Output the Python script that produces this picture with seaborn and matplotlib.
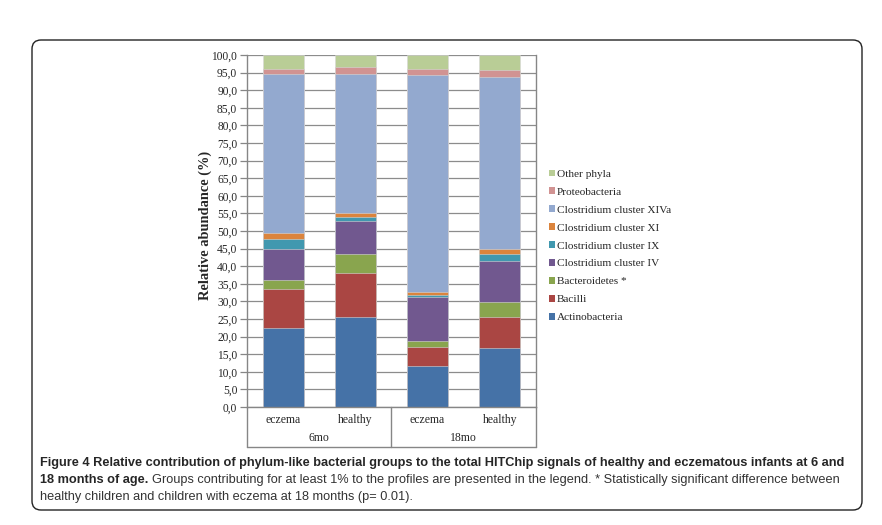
import matplotlib
matplotlib.use("Agg")
import matplotlib.pyplot as plt
import seaborn as sns
import pandas as pd
from matplotlib.patches import Patch, FancyBboxPatch
from matplotlib.transforms import IdentityTransform

# data (percent of total HITChip signal)
samples = ["6mo eczema", "6mo healthy", "18mo eczema", "18mo healthy"]
groups = ["eczema", "healthy", "eczema", "healthy"]
ages = ["6mo", "18mo"]
phyla = ["Actinobacteria", "Bacilli", "Bacteroidetes *", "Clostridium cluster IV",
         "Clostridium cluster IX", "Clostridium cluster XI", "Clostridium cluster XIVa",
         "Proteobacteria", "Other phyla"]
actinobacteria = [22.5, 25.5, 11.6, 16.7]
bacilli = [11.0, 12.7, 5.5, 8.8]
bacteroidetes = [2.5, 5.3, 1.6, 4.4]
clostridium_iv = [9.0, 9.4, 12.6, 11.6]
clostridium_ix = [2.7, 1.2, 0.4, 1.9]
clostridium_xi = [1.6, 1.1, 1.1, 1.4]
clostridium_xiva = [45.2, 39.3, 61.5, 49.0]
proteobacteria = [1.5, 2.1, 1.7, 2.0]
other_phyla = [4.0, 3.4, 4.0, 4.2]

colors = ["#4572A7", "#AA4643", "#89A54E", "#71588F", "#4198AF",
          "#DB843D", "#93A9CF", "#D19392", "#B9CD96"]

values = [actinobacteria, bacilli, bacteroidetes, clostridium_iv, clostridium_ix,
          clostridium_xi, clostridium_xiva, proteobacteria, other_phyla]
rows = []
for name, vals in zip(phyla, values):
    for s, v in zip(samples, vals):
        rows.append({"sample": s, "phylum": name, "value": v})
df = pd.DataFrame(rows)
df["phylum"] = pd.Categorical(df["phylum"], phyla, ordered=True)
df = df.sort_values(["sample", "phylum"])
df["cum"] = df.groupby("sample")["value"].cumsum()

sns.set_style("white")
serif = ["Liberation Serif", "DejaVu Serif"]
capfont = ["Liberation Sans", "DejaVu Sans"]

fig = plt.figure(figsize=(8.82, 5.25), dpi=100)
W, H = 882, 525
ax = fig.add_axes([247 / W, 1 - 407 / H, 289 / W, 352 / H])

# stacked bars: draw cumulative totals from the top layer down
for name, col in reversed(list(zip(phyla, colors))):
    sub = df[df["phylum"] == name]
    sns.barplot(data=sub, x="sample", y="cum", order=samples, color=col,
                width=0.57, errorbar=None, ax=ax, saturation=1,
                edgecolor="#d8d8d8", linewidth=0.4)

ax.set_xlim(-0.5, 3.5)
ax.set_ylim(0, 100)
ax.set_yticks(range(0, 101, 5))
ax.set_yticklabels([f"{t:.1f}".replace(".", ",") for t in range(0, 101, 5)],
                   family=serif, fontsize=8.3)
ax.set_xticks([])
ax.set_xlabel("")
ax.set_ylabel("Relative abundance (%)", family=serif, fontweight="bold",
              fontsize=10.4, labelpad=0)
ax.yaxis.set_label_coords(-35 / 289, 0.515)
ax.yaxis.grid(True, color="#8c8c8c", lw=0.9)
ax.set_axisbelow(True)
ax.tick_params(axis="y", direction="out", length=5, width=0.9, color="#868686",
               pad=2, left=True)
for side in ["left", "bottom", "right"]:
    ax.spines[side].set_color("#868686")
    ax.spines[side].set_linewidth(1.0)
ax.spines["top"].set_visible(False)

# category table below the axis
yb = -40 / 352
for xx in [0, 0.5, 1]:
    ax.plot([xx, xx], [0, yb], transform=ax.transAxes, color="#868686",
            lw=1.0, clip_on=False)
ax.plot([0, 1], [yb, yb], transform=ax.transAxes, color="#868686", lw=1.0,
        clip_on=False)
for i, g in enumerate(groups):
    ax.text((i + 0.5) / 4, -13 / 352, g, transform=ax.transAxes, ha="center",
            va="center", family=serif, fontsize=8.5)
for i, a in enumerate(ages):
    ax.text((i + 0.5) / 2, -31 / 352, a, transform=ax.transAxes, ha="center",
            va="center", family=serif, fontsize=8.5)

# legend
handles = [Patch(facecolor=c, edgecolor="none") for c in colors]
fig.legend(handles[::-1], phyla[::-1], loc="upper left",
           bbox_to_anchor=(544 / W, 1 - 165 / H), frameon=False,
           prop={"family": serif, "size": 8.1}, handlelength=0.55,
           handleheight=0.55, handletextpad=0.2, labelspacing=0.76,
           borderaxespad=0)

# outer rounded frame
fig.patches.append(FancyBboxPatch((32, H - 510), 830, 470,
                                  boxstyle="round,pad=0,rounding_size=9",
                                  transform=IdentityTransform(), fill=False,
                                  edgecolor="#222222", lw=1.0))

# caption
cs = 9.2
fig.text(40 / W, 1 - 463 / H,
         "Figure 4 Relative contribution of phylum-like bacterial groups to the total "
         "HITChip signals of healthy and eczematous infants at 6 and",
         family=capfont, fontweight="bold", fontsize=cs, va="center")
t2 = fig.text(40 / W, 1 - 480 / H, "18 months of age.", family=capfont,
              fontweight="bold", fontsize=cs, va="center")
fig.canvas.draw()
bb = t2.get_window_extent()
fig.text((bb.x1 + 4) / W, 1 - 480 / H,
         "Groups contributing for at least 1% to the profiles are presented in the "
         "legend. * Statistically significant difference between",
         family=capfont, fontsize=cs, va="center", color="#333333")
fig.text(40 / W, 1 - 497 / H,
         "healthy children and children with eczema at 18 months (p= 0.01).",
         family=capfont, fontsize=cs, va="center", color="#333333")

fig.savefig("out.png", dpi=100)
